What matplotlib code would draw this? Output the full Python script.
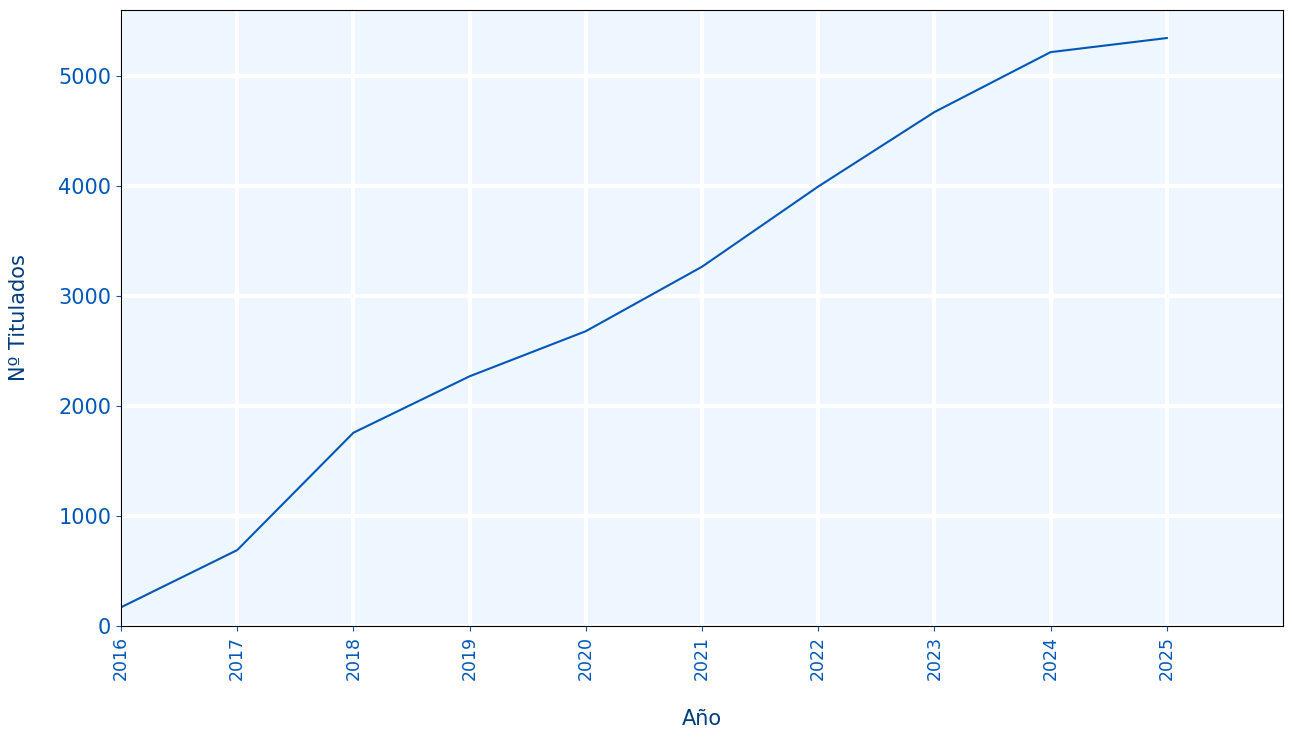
import matplotlib
matplotlib.use('Agg')
import matplotlib.pyplot as plt

years = [2016, 2017, 2018, 2019, 2020, 2021, 2022, 2023, 2024, 2025]
titulados = [170, 690, 1757, 2270, 2680, 3266, 3995, 4672, 5217, 5345]

line_color = '#0057b8'
label_color = '#003d80'

fig = plt.figure(figsize=(12.93, 7.39), dpi=100)
ax = fig.add_axes([121 / 1293, 1 - 626 / 739, 1162 / 1293, 616 / 739])

ax.set_facecolor('#eef6ff')
ax.grid(True, color='white', linewidth=3)
ax.set_axisbelow(True)

ax.plot(years, titulados, color=line_color, linewidth=1.5)

ax.set_xlim(2016, 2026)
ax.set_ylim(0, 5600)
ax.set_xticks(years)
ax.set_xticklabels([str(y) for y in years], rotation=90, fontsize=12.5, color=line_color)
ax.set_yticks([0, 1000, 2000, 3000, 4000, 5000])
ax.tick_params(axis='y', labelsize=15, labelcolor=line_color, color=line_color)
ax.tick_params(axis='x', color=line_color)

ax.set_xlabel('Año', fontsize=15, color=label_color, labelpad=21)
ax.set_ylabel('Nº Titulados', fontsize=15, color=label_color, labelpad=21)

fig.savefig('out.png', dpi=100)
